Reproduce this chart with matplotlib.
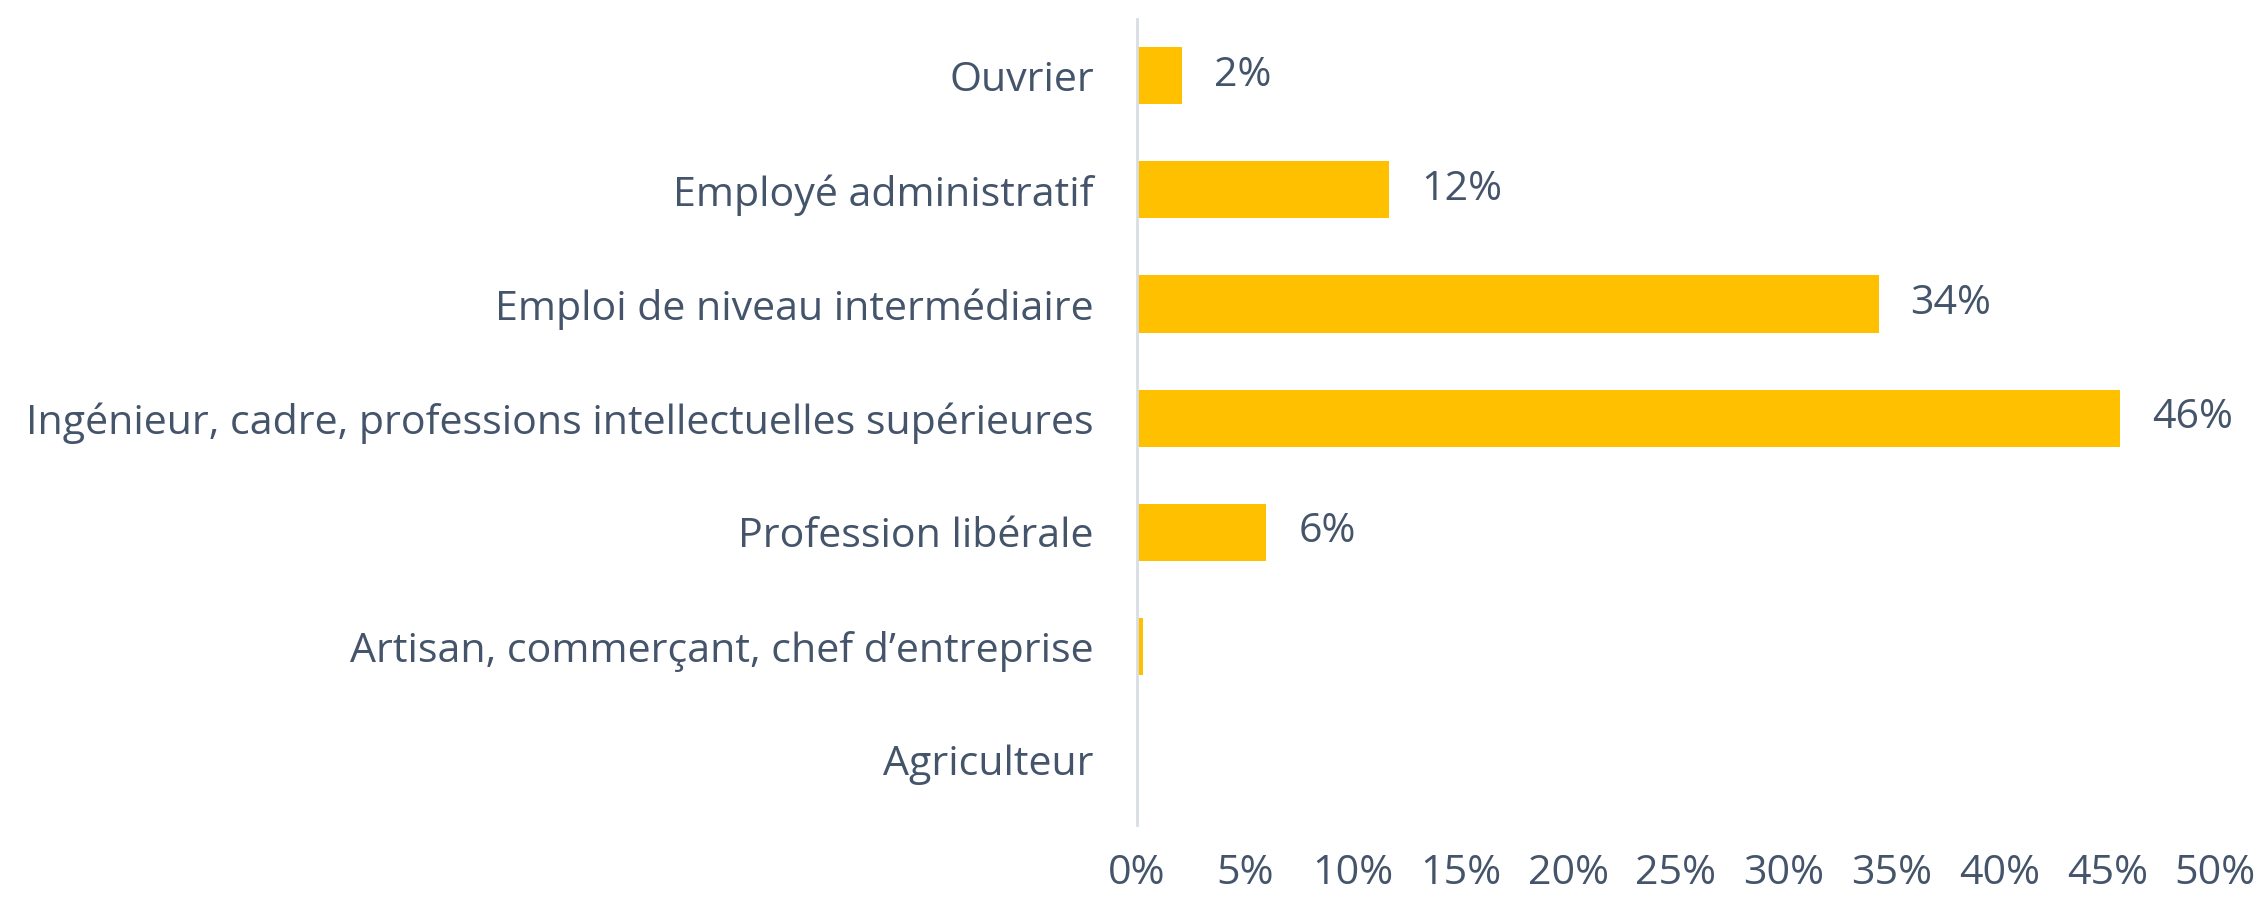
import matplotlib
matplotlib.use("Agg")
import matplotlib.pyplot as plt
from matplotlib.ticker import FuncFormatter

categories = [
    "Ouvrier",
    "Employé administratif",
    "Emploi de niveau intermédiaire",
    "Ingénieur, cadre, professions intellectuelles supérieures",
    "Profession libérale",
    "Artisan, commerçant, chef d’entreprise",
    "Agriculteur",
]
values = [2.1, 11.7, 34.4, 45.6, 6.0, 0.3, 0.0]
labels = ["2%", "12%", "34%", "46%", "6%", "", ""]
xticks = [0, 5, 10, 15, 20, 25, 30, 35, 40, 45, 50]

text_color = "#44546A"
bar_color = "#FFC000"

plt.rcParams['font.family'] = ['Open Sans', 'DejaVu Sans']

fig = plt.figure(figsize=(22.68, 9), dpi=100)
ax = fig.add_axes([0.5013, 0.092, 0.4753, 0.887])

ypos = list(range(len(categories)))
bars = ax.barh(ypos, values, height=0.5, color=bar_color)
ax.set_ylim(len(categories) - 0.5, -0.5)
ax.set_xlim(0, 50)
ax.set_yticks(ypos)
ax.set_yticklabels(categories, fontsize=29.6, color=text_color)
ax.set_xticks(xticks)
ax.xaxis.set_major_formatter(FuncFormatter(lambda v, p: f"{int(v)}%"))
ax.tick_params(axis='x', labelsize=29.6, labelcolor=text_color, length=0, pad=26)
ax.tick_params(axis='y', length=0, pad=31)

for s in ['top', 'right', 'bottom']:
    ax.spines[s].set_visible(False)
ax.spines['left'].set_color('#D9DEE5')
ax.spines['left'].set_linewidth(2)
ax.spines['left'].set_bounds(len(categories) - 0.43, -0.5)

for rect, lab in zip(bars, labels):
    if lab:
        ax.annotate(lab, (rect.get_width(), rect.get_y() + rect.get_height() / 2),
                    xytext=(23, 0), textcoords='offset points',
                    va='center', ha='left', fontsize=29.6, color=text_color)

fig.savefig("out.png", dpi=100, facecolor="white")
